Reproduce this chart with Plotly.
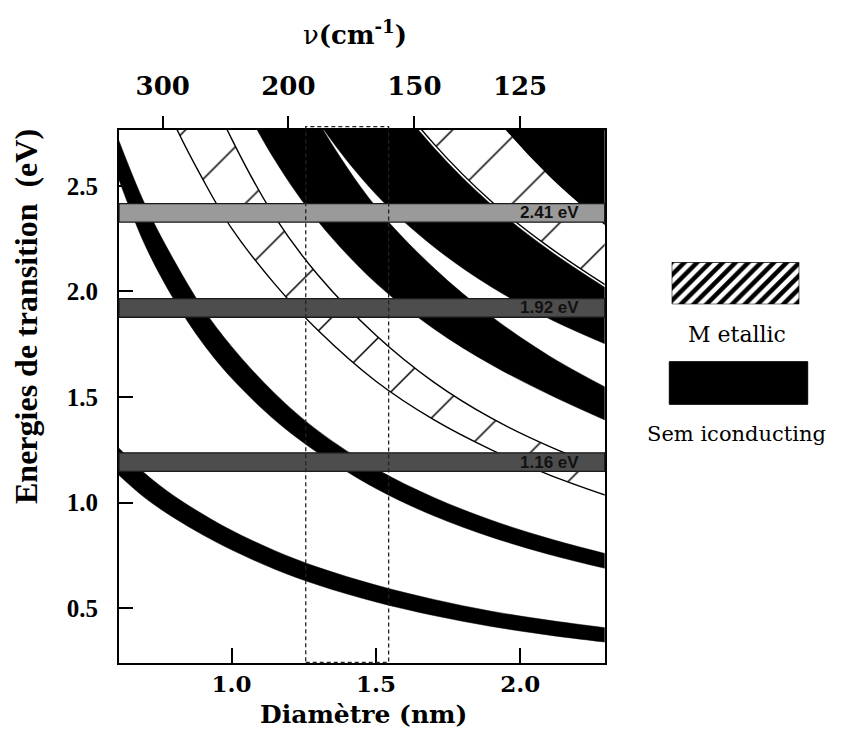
import plotly.graph_objects as go

# ---------------- data ----------------
diam = [0.60, 0.70, 0.80, 0.90, 1.00, 1.15, 1.30, 1.50, 1.70, 1.90, 2.10, 2.30]

# semiconducting bands (lower / upper edge, eV)
s1_low  = [1.143, 1.023, 0.929, 0.848, 0.777, 0.685, 0.610, 0.530, 0.466, 0.414, 0.373, 0.339]
s1_high = [1.273, 1.139, 1.033, 0.946, 0.869, 0.773, 0.694, 0.610, 0.542, 0.486, 0.443, 0.407]
s2_low  = [2.567, 2.221, 1.963, 1.756, 1.590, 1.391, 1.235, 1.067, 0.938, 0.837, 0.755, 0.687]
s2_high = [2.750, 2.414, 2.150, 1.922, 1.740, 1.517, 1.340, 1.161, 1.025, 0.917, 0.830, 0.757]
s3_low  = [4.917, 4.243, 3.725, 3.322, 3.000, 2.622, 2.331, 2.040, 1.824, 1.653, 1.512, 1.387]
s3_high = [6.250, 5.329, 4.650, 4.111, 3.690, 3.196, 2.804, 2.400, 2.112, 1.882, 1.695, 1.543]
s4_low  = [5.917, 5.100, 4.488, 4.000, 3.610, 3.152, 2.804, 2.460, 2.212, 2.021, 1.871, 1.748]
s4_high = [7.417, 6.386, 5.613, 5.000, 4.510, 3.926, 3.481, 3.027, 2.682, 2.411, 2.195, 2.013]
s5_low  = [9.250, 7.929, 6.938, 6.167, 5.550, 4.826, 4.269, 3.700, 3.224, 2.850, 2.550, 2.310]
s5_high = [11.00, 9.430, 8.250, 7.330, 6.600, 5.740, 5.080, 4.400, 3.880, 3.470, 3.140, 2.870]

# metallic bands (lower / upper edge, eV)
m1_low  = [3.583, 3.143, 2.800, 2.533, 2.300, 2.035, 1.815, 1.575, 1.393, 1.250, 1.132, 1.033]
m1_high = [4.533, 3.893, 3.413, 3.031, 2.724, 2.353, 2.077, 1.793, 1.571, 1.400, 1.267, 1.157]
m2_low  = [7.467, 6.429, 5.650, 5.033, 4.540, 3.952, 3.504, 3.047, 2.700, 2.426, 2.210, 2.026]
m2_high = [9.250, 7.929, 6.938, 6.167, 5.550, 4.826, 4.269, 3.700, 3.224, 2.850, 2.550, 2.310]

# laser lines
laser_labels = ["2.41 eV", "1.92 eV", "1.16 eV"]
laser_center = [2.372, 1.922, 1.192]
laser_colors = ["#9a9a9a", "#4d4d4d", "#4d4d4d"]

# diameter window (dashed box)
window_diam = [1.257, 1.544]

# axis ticks
x_ticks = [1.0, 1.5, 2.0]
x_ticktext = ["1.0", "1.5", "2.0"]
y_ticks = [0.5, 1.0, 1.5, 2.0, 2.5]
y_ticktext = ["0.5", "1.0", "1.5", "2.0", "2.5"]
rbm_ticktext = ["300", "200", "150", "125"]
rbm_tick_diam = [0.762, 1.197, 1.633, 1.999]

legend_labels = ["M etallic", "Sem iconducting"]

# ---------------- figure ----------------
# the page adds an 8 px body margin: the figure is drawn 8 px right / down
OFF = 8
W, H = 843 - 2 * OFF, 742 - 2 * OFF


def px(xp, yp):
    """page pixel -> paper fraction"""
    return (xp - OFF) / W, 1 - (yp - OFF) / H


X_RANGE = [0.6105, 2.292]
Y_RANGE = [0.2434, 2.766]
XDOM = [px(119, 0)[0], px(604.7, 0)[0]]
YDOM = [px(0, 662.5)[1], px(0, 129.7)[1]]

fig = go.Figure()


def add_band(low, high, metallic):
    if metallic:
        edge = dict(color="black", width=1.4, shape="spline")
        fig.add_trace(go.Scatter(x=diam, y=low, mode="lines", line=edge, hoverinfo="skip"))
        fig.add_trace(go.Scatter(
            x=diam, y=high, mode="lines", line=edge, fill="tonexty",
            fillcolor="white",
            fillpattern=dict(shape="/", fgcolor="black", bgcolor="white",
                             fgopacity=1, size=47.2, solidity=0.032),
            hoverinfo="skip"))
    else:
        edge = dict(color="black", width=0.5, shape="spline")
        fig.add_trace(go.Scatter(x=diam, y=low, mode="lines", line=edge, hoverinfo="skip"))
        fig.add_trace(go.Scatter(x=diam, y=high, mode="lines", line=edge,
                                 fill="tonexty", fillcolor="black", hoverinfo="skip"))


add_band(m1_low, m1_high, True)
add_band(m2_low, m2_high, True)
add_band(s1_low, s1_high, False)
add_band(s2_low, s2_high, False)
add_band(s3_low, s3_high, False)
add_band(s4_low, s4_high, False)
add_band(s5_low, s5_high, False)

# invisible trace to carry the top (RBM frequency) axis
fig.add_trace(go.Scatter(x=rbm_tick_diam, y=[None] * len(rbm_tick_diam), xaxis="x2",
                         mode="markers", marker=dict(opacity=0), hoverinfo="skip"))

# legend hatched swatch on its own small axes
fig.add_trace(go.Scatter(
    x=[0, 1, 1, 0, 0], y=[0, 0, 1, 1, 0], xaxis="x3", yaxis="y3", mode="lines",
    line=dict(color="black", width=1.2), fill="toself", fillcolor="white",
    fillpattern=dict(shape="/", fgcolor="black", bgcolor="white", fgopacity=1,
                     size=9.05, solidity=0.5),
    hoverinfo="skip"))

shapes = []
annotations = []
half = 0.044
for lab, c, col in zip(laser_labels, laser_center, laser_colors):
    shapes.append(dict(type="rect", xref="x domain", yref="y", x0=0, x1=1,
                       y0=c - half, y1=c + half, fillcolor=col,
                       line=dict(color="#1a1a1a", width=1.3), layer="above"))
    annotations.append(dict(text="<b>" + lab + "</b>", xref="x domain", yref="y",
                            x=0.952, y=c, xanchor="right", yanchor="middle",
                            showarrow=False,
                            font=dict(family="Liberation Sans", size=17, color="#111")))

shapes.append(dict(type="rect", xref="x", yref="y domain",
                   x0=window_diam[0], x1=window_diam[1], y0=0, y1=1.0056,
                   line=dict(color="#222", width=1.3, dash="4px,3px"),
                   fillcolor="rgba(0,0,0,0)", layer="above"))

# legend black swatch
bx0, by0 = px(669.3, 404.3)
bx1, by1 = px(807.7, 361.7)
shapes.append(dict(type="rect", xref="paper", yref="paper",
                   x0=bx0, x1=bx1, y0=by0, y1=by1,
                   fillcolor="black", line=dict(color="black", width=1)))


def note(text, xp, yp, family, size, bold=False, angle=0):
    x, y = px(xp, yp)
    f = dict(family=family, size=size, color="black")
    if bold:
        f["weight"] = "bold"
    return dict(text=text, xref="paper", yref="paper", x=x, y=y, textangle=angle,
                showarrow=False, xanchor="center", yanchor="middle", font=f)


annotations += [
    note("Energies de transition\u00a0\u00a0(eV)", 26, 317, "Liberation Serif", 32, True, -90),
    note("Diamètre (nm)", 363, 714, "DejaVu Serif", 25, True),
    note("ν<b>(cm<sup>-1</sup>)</b>", 355, 33, "DejaVu Serif", 26),
    note(legend_labels[0], 736.7, 335, "DejaVu Serif", 22),
    note(legend_labels[1], 736, 434, "DejaVu Serif", 21),
]

lx0, ly0 = px(671.7, 304.3)
lx1, ly1 = px(799.3, 262.3)

fig.update_layout(
    width=W, height=H, margin=dict(l=0, r=0, t=0, b=0),
    plot_bgcolor="white", paper_bgcolor="white", showlegend=False,
    shapes=shapes, annotations=annotations,
    xaxis=dict(domain=XDOM, range=X_RANGE, anchor="y",
               tickvals=x_ticks, ticktext=x_ticktext,
               ticks="inside", ticklen=15, tickwidth=2, tickcolor="black",
               showline=True, linecolor="black", linewidth=2, mirror=True,
               showgrid=False, zeroline=False, ticklabelstandoff=0,
               tickfont=dict(family="DejaVu Serif", size=23, color="black", weight="bold")),
    yaxis=dict(domain=YDOM, range=Y_RANGE, anchor="x",
               tickvals=y_ticks, ticktext=y_ticktext,
               ticks="inside", ticklen=14, tickwidth=2, tickcolor="black",
               showline=True, linecolor="black", linewidth=2, mirror=True,
               showgrid=False, zeroline=False, ticklabelstandoff=14,
               tickfont=dict(family="Liberation Serif", size=25, color="black", weight="bold")),
    xaxis2=dict(overlaying="x", side="top", anchor="y", range=X_RANGE,
                tickvals=rbm_tick_diam, ticktext=rbm_ticktext,
                ticks="outside", ticklen=13, tickwidth=2, tickcolor="black",
                showline=False, showgrid=False, zeroline=False, ticklabelstandoff=10,
                tickfont=dict(family="DejaVu Serif", size=26, color="black", weight="bold")),
    xaxis3=dict(domain=[lx0, lx1], range=[0, 1], anchor="y3", visible=False),
    yaxis3=dict(domain=[ly0, ly1], range=[0, 1], anchor="x3", visible=False),
)

fig.write_html("out.html")
